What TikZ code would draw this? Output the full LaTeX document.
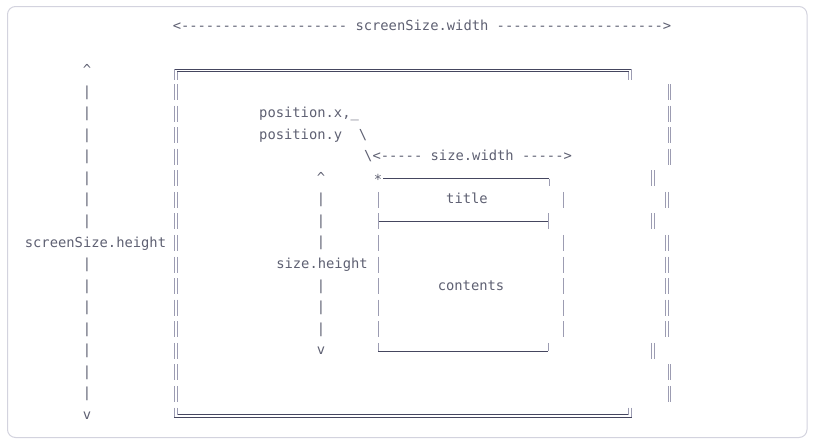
\documentclass[tikz,border=0pt]{standalone}
\usepackage{fontspec}
\newfontfamily\asciifont{DejaVu Sans Mono}[Ligatures=TeXOff]
\usetikzlibrary{positioning}
\definecolor{txtgray}{HTML}{5E6072}
\definecolor{hgray}{HTML}{45465F}
\definecolor{vgray}{HTML}{9C9CB2}
\definecolor{framegray}{HTML}{D3D3DE}
\tikzset{
    ascii/.style={font=\asciifont\fontsize{13.8}{16}\selectfont, text=txtgray,
        inner sep=0pt, anchor=base},
    asciileft/.style={ascii, anchor=base west},
    hwall/.style={draw=hgray, line width=0.8pt},
    vwall/.style={draw=vgray, line width=1pt},
}
% one row of the ascii block is 21.56 units high, row 1 sits at y=70
\newcommand{\dwall}[2]{\pgfmathsetmacro{\wy}{70+(#2-1)*21.56}%
    \draw[vwall] ({#1-1.3},{\wy-7.5}) -- ({#1-1.3},{\wy+8.5})
        ({#1+1.3},{\wy-7.5}) -- ({#1+1.3},{\wy+8.5});}
\newcommand{\swall}[2]{\pgfmathsetmacro{\wy}{70+(#2-1)*21.56}%
    \draw[vwall] (#1,{\wy-7.5}) -- (#1,{\wy+8.5});}

\begin{document}
\begin{tikzpicture}[x=1pt, y=-1pt]
\useasboundingbox (0,0) rectangle (814,447);
\draw[framegray, line width=1pt, rounded corners=8pt] (7.5,6.5) rectangle (807,437.5);

% screen width
\node[ascii] (swidth) at (422,30.5) {<--------------------~screenSize.width~-------------------->};

% screen height arrow
\node[ascii] (sup) at (87,74.5) {\textasciicircum};
\foreach \k in {2,...,8,10,11,...,16}
    \node[ascii] (sbar\k) at (87,{70+(\k-1)*21.56+4.5}) {\textbar};
\node[ascii] (sheight) at (95.5,247) {screenSize.height};
\node[ascii] (sdown) at (87,419.5) {v};

% screen box
\draw[hwall] (174.4,69) -- (631.6,69) (177,71.6) -- (629,71.6);
\draw[vwall] (174.7,69) -- (174.7,79.5) (177.3,71.6) -- (177.3,79.5)
    (628.7,71.6) -- (628.7,79.5) (631.3,69) -- (631.3,79.5);
\draw[hwall] (174.4,417.3) -- (631.6,417.3) (177,414.7) -- (629,414.7);
\draw[vwall] (174.7,407.5) -- (174.7,417.3) (177.3,407.5) -- (177.3,414.7)
    (628.7,407.5) -- (628.7,414.7) (631.3,407.5) -- (631.3,417.3);
\foreach \k in {2,...,16} \dwall{175.7}{\k};
\foreach \k in {2,3,4,5,15,16} \dwall{669.3}{\k};
\foreach \k in {7,9,10,11,12,13} \dwall{667}{\k};
\foreach \k in {6,8,14} \dwall{653}{\k};

% position
\node[asciileft] (posx) at (259,117.6) {position.x,\_};
\node[asciileft] (posy) at (259,139.2) {position.y~~\textbackslash};
\node[asciileft] (wwidth) at (364,160.7) {\textbackslash<-----~size.width~----->};

% window height arrow
\node[ascii] (wup) at (321,182.3) {\textasciicircum};
\foreach \k in {7,8,9,11,12,13}
    \node[ascii] (wbar\k) at (321,{70+(\k-1)*21.56+4.5}) {\textbar};
\node[ascii] (wheight) at (322,268.5) {size.height};
\node[ascii] (wdown) at (321,354.8) {v};

% window box
\node[ascii] (corner) at (378,184.3) {*};
\draw[hwall] (383,178.6) -- (549,178.6);
\draw[vwall] (549,178.6) -- (549,186.3);
\draw[hwall] (378,221.6) -- (548,221.6);
\draw[hwall] (378,351) -- (548,351);
\draw[vwall] (378,342.8) -- (378,351) (548,342.8) -- (548,351);
\foreach \k in {7,...,13} \swall{378}{\k};
\foreach \k in {7,9,10,11,12,13} \swall{563}{\k};
\swall{548}{8}
\node[ascii] (title) at (467,203.9) {title};
\node[ascii] (contents) at (471,290.1) {contents};
\end{tikzpicture}
\end{document}
